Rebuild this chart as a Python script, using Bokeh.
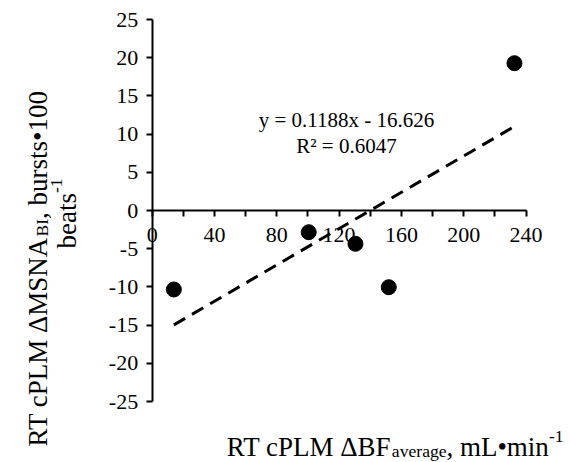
import math
from bokeh.plotting import figure
from bokeh.models import Label, FixedTicker, Range1d
from bokeh.embed import file_html
from bokeh.resources import INLINE

# ---------------- data ----------------
bf_average = [13.9, 100.5, 130.5, 151.9, 232.6]          # RT cPLM ΔBF_average, mL•min-1
msna_bi = [-10.34, -2.84, -4.36, -10.04, 19.28]           # RT cPLM ΔMSNA_BI, bursts•100 beats-1
trend_slope = 0.1188
trend_intercept = -16.626
r_squared = 0.6047
x_ticks = [0, 20, 40, 60, 80, 100, 120, 140, 160, 180, 200, 220, 240]
x_tick_labels = ["0", "", "40", "", "80", "", "120", "", "160", "", "200", "", "240"]
y_ticks = [-25, -20, -15, -10, -5, 0, 5, 10, 15, 20, 25]
y_tick_labels = ["-25", "-20", "-15", "-10", "-5", "0", "5", "10", "15", "20", "25"]

# ---------------- layout ----------------
W, H = 570, 462
XMIN, XMAX = 0, 240          # axis extent
YMIN, YMAX = -25, 25
PX_XMIN, PX_XMAX = 151.7, 525.5   # pixel columns of x = 0 and x = 240
PY_YMAX, PY_YMIN = 19.0, 401.0    # pixel rows of y = 25 and y = -25
SX = (PX_XMAX - PX_XMIN) / (XMAX - XMIN)
SY = (PY_YMIN - PY_YMAX) / (YMAX - YMIN)
FONT = "Liberation Serif"
TICK_SIZE = 22
TITLE_SIZE = 27
EQ_SIZE = 21


def dx(px):
    return XMIN + (px - PX_XMIN) / SX


def dy(py):
    return YMAX - (py - PY_YMAX) / SY


METRIC = {' ': 250, ',': 250, '-': 333, '.': 250, '=': 564, '•': 350, 'Δ': 612, '²': 300}
for ch in "0123456789":
    METRIC[ch] = 500
METRIC.update({'A': 722, 'B': 667, 'F': 556, 'I': 333, 'L': 611, 'M': 889, 'N': 722,
               'P': 556, 'R': 667, 'S': 556, 'T': 611,
               'a': 444, 'b': 500, 'c': 444, 'e': 444, 'g': 500, 'i': 278, 'm': 778,
               'n': 500, 'r': 333, 's': 389, 't': 278, 'u': 500, 'v': 500})


def text_width(s, size):
    return sum(METRIC.get(c, 500) for c in s) * size / 1000.0


def piece_size(kind, size):
    return size if kind == "n" else size * 0.65


def rich_width(pieces, size):
    return sum(text_width(t, piece_size(k, size)) for t, k in pieces)


def add_rich(p, pieces, size, start, base, vertical=False):
    pos = start
    for t, k in pieces:
        fs = piece_size(k, size)
        shift = 0.0
        if k == "sub":
            shift = -0.15 * size
        elif k == "sup":
            shift = 0.38 * size
        if not vertical:
            lab = Label(x=dx(pos), y=dy(base - shift), text=t, text_align="left",
                        text_baseline="alphabetic", text_font=FONT,
                        text_font_size=f"{fs:.1f}px", text_color="black")
            pos += text_width(t, fs)
        else:
            lab = Label(x=dx(base - shift), y=dy(pos), text=t, text_align="left",
                        text_baseline="alphabetic", angle=math.pi / 2, text_font=FONT,
                        text_font_size=f"{fs:.1f}px", text_color="black")
            pos -= text_width(t, fs)
        p.add_layout(lab)


# the frame covers the whole canvas; both axes sit at fixed data locations
p = figure(width=W, height=H,
           x_range=Range1d(dx(0), dx(W)), y_range=Range1d(dy(H), dy(0)),
           min_border_left=0, min_border_right=0, min_border_top=0, min_border_bottom=0,
           output_backend="svg", toolbar_location=None, tools="")
p.title.visible = False
p.outline_line_color = None
p.xgrid.grid_line_color = None
p.ygrid.grid_line_color = None
p.background_fill_color = "white"
p.border_fill_color = "white"

# trendline
tx = [min(bf_average), max(bf_average)]
ty = [trend_slope * v + trend_intercept for v in tx]
p.line(tx, ty, line_color="black", line_width=3, line_dash="13 8")

# points
p.scatter(bf_average, msna_bi, size=15, fill_color="black", line_color="black")

for ax in (p.xaxis, p.yaxis):
    ax.axis_line_color = "black"
    ax.axis_line_width = 2
    ax.major_tick_line_color = "black"
    ax.major_tick_line_width = 2
    ax.major_tick_in = 0
    ax.major_tick_out = 6
    ax.minor_tick_line_color = None
    ax.major_label_text_font = FONT
    ax.major_label_text_font_size = f"{TICK_SIZE}px"
    ax.major_label_text_color = "black"

p.xaxis.fixed_location = 0
p.xaxis.bounds = (XMIN, XMAX)
p.xaxis.ticker = FixedTicker(ticks=x_ticks)
p.xaxis.major_label_overrides = dict(zip(x_ticks, x_tick_labels))
p.xaxis.major_label_standoff = 11
p.yaxis.fixed_location = 0
p.yaxis.bounds = (YMIN, YMAX)
p.yaxis.ticker = FixedTicker(ticks=y_ticks)
p.yaxis.major_label_overrides = dict(zip(y_ticks, y_tick_labels))
p.yaxis.major_label_standoff = 8

# trendline equation
p.add_layout(Label(x=dx(346), y=dy(119), text=f"y = {trend_slope}x - {abs(trend_intercept)}",
                   text_align="center", text_baseline="middle", text_font=FONT,
                   text_font_size=f"{EQ_SIZE}px", text_color="black"))
p.add_layout(Label(x=dx(346), y=dy(145), text=f"R² = {r_squared}",
                   text_align="center", text_baseline="middle", text_font=FONT,
                   text_font_size=f"{EQ_SIZE}px", text_color="black"))

# x axis title
x_title = [("RT cPLM ΔBF", "n"), ("average", "sub"), (", mL•min", "n"), ("-1", "sup")]
add_rich(p, x_title, TITLE_SIZE, 563 - rich_width(x_title, TITLE_SIZE), 446)

# y axis title (two lines, rotated)
y_line1 = [("RT cPLM ΔMSNA", "n"), ("BI", "sub"), (", bursts•100", "n")]
y_line2 = [("beats", "n"), ("-1", "sup")]
w2 = rich_width(y_line2, TITLE_SIZE)
add_rich(p, y_line1, TITLE_SIZE, 446, 37, vertical=True)
add_rich(p, y_line2, TITLE_SIZE, 213 + w2 / 2, 66, vertical=True)

open("out.html", "w").write(file_html(p, INLINE))
